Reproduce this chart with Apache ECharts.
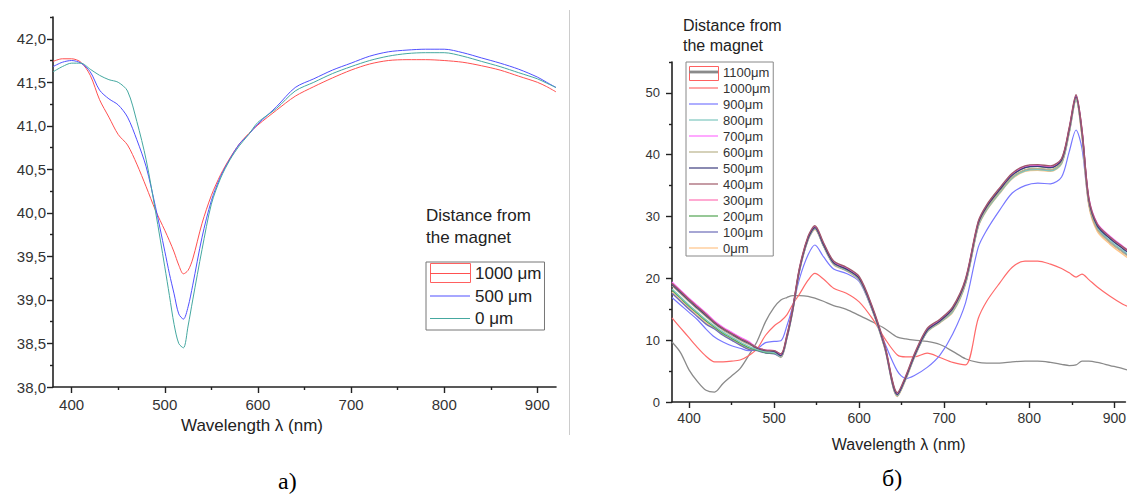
<!DOCTYPE html>
<html><head><meta charset="utf-8">
<script src="https://cdn.jsdelivr.net/npm/echarts@6/dist/echarts.min.js"></script>
<style>html,body{margin:0;padding:0;background:#fff}#c{width:1129px;height:495px}</style>
</head><body><div id="c"></div>
<script>
// ---------- DATA ----------
const leftWl = [380,390,400,410,420,430,440,450,460,470,480,490,500,505,510,515,520,525,530,540,550,560,570,580,590,600,620,640,660,680,700,720,740,760,780,800,820,840,860,880,900,910,920];
const left1000 = [41.74,41.77,41.77,41.73,41.58,41.30,41.10,40.90,40.78,40.56,40.30,40.03,39.80,39.68,39.55,39.40,39.30,39.34,39.47,39.88,40.20,40.44,40.63,40.79,40.91,41.01,41.18,41.34,41.45,41.55,41.64,41.71,41.75,41.76,41.76,41.75,41.73,41.69,41.64,41.57,41.50,41.45,41.39];
const left500 = [41.68,41.73,41.75,41.72,41.62,41.41,41.31,41.24,41.10,40.84,40.53,40.07,39.56,39.30,39.07,38.84,38.78,38.92,39.17,39.72,40.14,40.42,40.62,40.79,40.90,41.02,41.22,41.44,41.54,41.64,41.72,41.80,41.85,41.87,41.88,41.88,41.84,41.78,41.72,41.65,41.56,41.50,41.44];
const left0 = [41.62,41.68,41.72,41.72,41.65,41.58,41.53,41.50,41.40,41.05,40.61,40.02,39.38,39.05,38.72,38.50,38.45,38.70,39.00,39.58,40.10,40.40,40.61,40.77,40.90,41.04,41.20,41.40,41.50,41.60,41.68,41.75,41.80,41.83,41.84,41.84,41.80,41.74,41.68,41.61,41.54,41.49,41.44];

const rightWl = [380,390,400,410,420,430,440,450,460,470,480,490,500,508,515,522,530,540,548,558,570,585,600,615,630,645,655,665,680,695,710,725,740,750,765,780,795,810,825,838,847,855,862,870,880,895,910,915];
const r1100 = [9.7,8.0,5.2,3.3,1.9,1.6,3.0,4.2,5.4,7.5,9.8,13.0,15.3,16.5,16.9,17.2,17.2,17.1,16.8,16.3,15.6,15.0,14.0,13.0,11.9,10.5,10.2,10.0,9.8,9.3,8.2,7.0,6.4,6.3,6.3,6.5,6.6,6.6,6.4,6.1,5.9,6.0,6.6,6.6,6.4,5.9,5.4,5.2];
const r1000 = [13.6,12.0,10.4,8.8,7.4,6.5,6.5,6.6,6.8,7.5,8.6,10.8,12.3,13.1,14.1,15.8,17.5,19.7,20.8,19.9,18.4,17.6,16.2,13.6,10.3,7.6,7.3,7.3,7.9,7.2,6.4,6.0,13.5,16.3,19.2,21.8,22.8,22.8,22.3,21.6,20.9,20.2,20.7,19.8,18.6,17.1,15.8,15.5];
const r900 = [16.9,15.7,14.5,13.3,11.8,10.5,9.7,9.1,8.7,8.3,8.6,9.6,9.8,9.9,12.3,15.5,20.0,23.8,25.4,23.5,21.5,20.8,19.5,15.0,9.6,5.0,3.8,4.3,5.6,7.6,11.0,16.0,25.0,27.8,31.0,33.8,35.0,35.4,35.3,36.4,40.5,44.0,41.0,32.0,28.0,25.8,24.3,23.9];
const r800 = [18.3,17.0,15.7,14.5,13.3,12.3,11.3,10.5,9.7,9.0,8.5,8.1,8.0,7.3,10.3,14.8,21.3,26.3,28.0,25.3,22.3,21.3,19.8,15.1,8.8,1.0,3.8,7.3,11.4,12.9,14.6,19.1,28.4,31.1,33.8,36.2,37.4,37.6,37.4,38.6,43.6,48.9,43.4,32.4,28.2,26.1,24.5,24.0];
const r700 = [19.4,18.1,16.8,15.6,14.4,13.1,12.1,11.3,10.5,9.8,8.8,8.4,8.3,7.7,10.7,15.2,21.7,26.7,28.4,25.7,22.7,21.7,20.2,15.5,9.2,1.4,4.2,7.7,11.8,13.3,15.3,19.8,29.1,31.8,34.5,36.9,38.1,38.3,38.1,39.3,44.3,49.6,44.1,33.1,28.9,26.8,25.2,24.7];
const r600 = [18.8,17.5,16.2,15.0,13.8,12.6,11.6,10.8,10.0,9.3,8.7,8.3,8.2,7.4,10.4,14.9,21.4,26.4,28.1,25.4,22.4,21.4,19.9,15.2,8.9,1.1,3.9,7.4,11.5,13.0,14.8,19.3,28.6,31.3,34.0,36.4,37.6,37.8,37.6,38.8,43.8,49.1,43.1,32.1,27.9,25.8,24.2,23.7];
const r500 = [19.0,17.7,16.4,15.2,14.0,12.8,11.8,11.0,10.2,9.5,8.7,8.3,8.2,7.5,10.5,15.0,21.5,26.5,28.2,25.5,22.5,21.5,20.0,15.3,9.0,1.2,4.0,7.5,11.6,13.1,15.1,19.6,28.9,31.6,34.3,36.7,37.9,38.1,37.9,39.1,44.1,49.4,43.7,32.7,28.5,26.4,24.8,24.3];
const r400 = [19.2,17.9,16.6,15.4,14.2,12.9,11.9,11.1,10.3,9.6,8.8,8.4,8.3,7.8,10.8,15.3,21.8,26.8,28.5,25.8,22.8,21.8,20.3,15.6,9.3,1.5,4.3,7.8,11.9,13.4,15.4,19.9,29.2,31.9,34.6,37.0,38.2,38.4,38.2,39.4,44.4,49.7,44.0,33.0,28.8,26.7,25.1,24.6];
const r300 = [19.3,18.0,16.7,15.5,14.3,13.0,12.0,11.2,10.4,9.7,8.8,8.4,8.3,7.6,10.6,15.1,21.6,26.6,28.3,25.6,22.6,21.6,20.1,15.4,9.1,1.3,4.1,7.6,11.7,13.2,15.2,19.7,29.0,31.7,34.4,36.8,38.0,38.2,38.0,39.2,44.2,49.5,43.9,32.9,28.7,26.6,25.0,24.5];
const r200 = [18.1,16.8,15.5,14.3,13.1,12.1,11.1,10.3,9.5,8.8,8.4,8.0,7.9,7.6,10.6,15.1,21.6,26.6,28.3,25.6,22.6,21.6,20.1,15.4,9.1,1.3,4.1,7.6,11.7,13.2,15.1,19.6,28.9,31.6,34.3,36.7,37.9,38.1,37.9,39.1,44.1,49.4,43.8,32.8,28.6,26.5,24.9,24.4];
const r100 = [17.6,16.3,15.0,13.8,12.6,11.8,10.8,10.0,9.2,8.5,8.3,7.9,7.8,7.3,10.3,14.8,21.3,26.3,28.0,25.3,22.3,21.3,19.8,15.1,8.8,1.0,3.8,7.3,11.4,12.9,14.7,19.2,28.5,31.2,33.9,36.3,37.5,37.7,37.5,38.7,43.7,49.0,43.2,32.2,28.0,25.9,24.3,23.8];
const r0 = [17.8,16.5,15.2,14.0,12.8,11.9,10.9,10.1,9.3,8.6,8.4,8.0,7.9,7.2,10.2,14.7,21.2,26.2,27.9,25.2,22.2,21.2,19.7,15.0,8.7,0.9,3.7,7.2,11.3,12.8,14.5,19.0,28.3,31.0,33.7,36.1,37.3,37.5,37.3,38.5,43.5,48.8,42.8,31.8,27.6,25.5,23.9,23.4];

const leftNames = ['1000 μm','500 μm','0 μm'];
const rightNames = ['1100μm','1000μm','900μm','800μm','700μm','600μm','500μm','400μm','300μm','200μm','100μm','0μm'];

const xTicks = [400,500,600,700,800,900];
const xMinor = [450,550,650,750,850];
const leftYTicks = [38,38.5,39,39.5,40,40.5,41,41.5,42];
const leftYMinor = [38.25,38.75,39.25,39.75,40.25,40.75,41.25,41.75,42.25];
const rightYTicks = [0,10,20,30,40,50];
const rightYMinor = [5,15,25,35,45,55];

// ---------- CHART ----------
const FONT = 'Liberation Sans, Arial, sans-serif';
const AX = '#222';
const pts = (xs, ys) => xs.map((x, i) => [x, ys[i]]);

function majorAxis(grid, min, max, ticks, extra) {
  return Object.assign({
    type: 'value', gridIndex: grid, min: min, max: max,
    axisLine: {show: true, onZero: false, lineStyle: {color: AX, width: 1.6}},
    axisTick: {show: true, customValues: ticks, length: 6, lineStyle: {color: AX, width: 1.4}},
    axisLabel: {customValues: ticks, color: '#333', fontFamily: FONT},
    splitLine: {show: false}
  }, extra);
}
function minorAxis(grid, min, max, ticks, pos) {
  return {
    type: 'value', gridIndex: grid, min: min, max: max, position: pos,
    axisLine: {show: false},
    axisTick: {show: true, customValues: ticks, length: 3, lineStyle: {color: AX, width: 1.4}},
    axisLabel: {show: false}, splitLine: {show: false}
  };
}

const xAxis = [
  majorAxis(0, 380, 920, xTicks, {position: 'bottom',
    axisLabel: {customValues: xTicks, color: '#333', fontFamily: FONT, fontSize: 15, margin: 10},
    name: 'Wavelength λ (nm)', nameLocation: 'middle', nameGap: 24,
    nameTextStyle: {fontSize: 17, color: '#222', fontFamily: FONT, padding: [0, 105, 0, 0]}}),
  minorAxis(0, 380, 920, xMinor, 'bottom'),
  majorAxis(1, 380, 913, xTicks, {position: 'bottom',
    axisLabel: {customValues: xTicks, color: '#333', fontFamily: FONT, fontSize: 14, margin: 9},
    name: 'Wavelength λ (nm)', nameLocation: 'middle', nameGap: 34,
    nameTextStyle: {fontSize: 16, color: '#222', fontFamily: FONT}}),
  minorAxis(1, 380, 913, xMinor, 'bottom')
];
const yAxis = [
  majorAxis(0, 38, 42.25, leftYTicks, {position: 'left',
    axisLabel: {customValues: leftYTicks, color: '#333', fontFamily: FONT, fontSize: 15, margin: 7,
      formatter: v => v.toFixed(1).replace('.', ',')}}),
  minorAxis(0, 38, 42.25, leftYMinor, 'left'),
  majorAxis(1, 0, 55, rightYTicks, {position: 'left',
    axisLabel: {customValues: rightYTicks, color: '#333', fontFamily: FONT, fontSize: 13, margin: 12}}),
  minorAxis(1, 0, 55, rightYMinor, 'left')
];

function lineSeries(name, xi, yi, xs, ys, color, width) {
  return {
    name: name, type: 'line', xAxisIndex: xi, yAxisIndex: yi,
    data: pts(xs, ys), symbol: 'none', showSymbol: false, smooth: 0.3,
    lineStyle: {color: color, width: width}, itemStyle: {color: color},
    emphasis: {disabled: true}, silent: true
  };
}

const C = {
  l1000: '#ff5050', l500: '#5050ff', l0: '#45a8a0',
  r1100: '#8a8a8a', r1000: '#ff6a6a', r900: '#7878ff', r800: '#7cc6be', r700: '#ff70ff',
  r600: '#bab28a', r500: '#3c3c7e', r400: '#a05a6a', r300: '#ff72b4', r200: '#52a352',
  r100: '#6c6cb8', r0: '#ffc488'
};

const series = [
  lineSeries(leftNames[0], 0, 0, leftWl, left1000, C.l1000, 1),
  lineSeries(leftNames[1], 0, 0, leftWl, left500, C.l500, 1),
  lineSeries(leftNames[2], 0, 0, leftWl, left0, C.l0, 1),
  lineSeries('1100μm', 2, 2, rightWl, r1100, C.r1100, 1.3),
  lineSeries('1000μm', 2, 2, rightWl, r1000, C.r1000, 1.2),
  lineSeries('900μm', 2, 2, rightWl, r900, C.r900, 1.2),
  lineSeries('0μm', 2, 2, rightWl, r0, C.r0, 1.4),
  lineSeries('100μm', 2, 2, rightWl, r100, C.r100, 1.3),
  lineSeries('200μm', 2, 2, rightWl, r200, C.r200, 1.3),
  lineSeries('800μm', 2, 2, rightWl, r800, C.r800, 1.3),
  lineSeries('600μm', 2, 2, rightWl, r600, C.r600, 1.3),
  lineSeries('300μm', 2, 2, rightWl, r300, C.r300, 1.3),
  lineSeries('700μm', 2, 2, rightWl, r700, C.r700, 1.3),
  lineSeries('500μm', 2, 2, rightWl, r500, C.r500, 1.3),
  lineSeries('400μm', 2, 2, rightWl, r400, C.r400, 1.4)
];

// thin horizontal bar icons (invisible moveTo corners keep the bar thin after scaling)
const LEFT_ICON = 'path://M0,0M40,14M0,6.5H40V7.5H0Z';
const RIGHT_ICON = 'path://M0,0M29,14M0,6.4H29V7.6H0Z';
const RIGHT_ICON_THICK = 'path://M0,0M29,14M0,5.6H29V8.4H0Z';

const chart = echarts.init(document.getElementById('c'), null, {renderer: 'svg'});
chart.setOption({
  animation: false,
  backgroundColor: '#fff',
  textStyle: {fontFamily: FONT},
  grid: [
    {left: 53, top: 17, width: 503, height: 370},
    {left: 672, top: 62, width: 457, height: 340}
  ],
  xAxis: xAxis,
  yAxis: yAxis,
  series: series,
  title: [
    {text: 'Distance from\nthe magnet', left: 426, top: 204, padding: 0,
      textStyle: {fontSize: 17, fontWeight: 'normal', color: '#222', lineHeight: 22, fontFamily: FONT}},
    {text: 'Distance from\nthe magnet', left: 683, top: 15, padding: 0,
      textStyle: {fontSize: 16, fontWeight: 'normal', color: '#222', lineHeight: 20, fontFamily: FONT}},
    {text: 'а)', left: 278, top: 469, padding: 0,
      textStyle: {fontSize: 24, fontWeight: 'normal', color: '#000', fontFamily: 'Liberation Serif, Times New Roman, serif'}},
    {text: 'б)', left: 882, top: 466, padding: 0,
      textStyle: {fontSize: 24, fontWeight: 'normal', color: '#000', fontFamily: 'Liberation Serif, Times New Roman, serif'}}
  ],
  legend: [
    {data: leftNames, icon: LEFT_ICON, symbolKeepAspect: false, orient: 'vertical', left: 426, top: 262, padding: [3, 3, 3, 4],
      itemWidth: 40, itemHeight: 14, itemGap: 5.5, borderColor: '#777', borderWidth: 1,
      selectedMode: false, textStyle: {fontSize: 17, color: '#222', fontFamily: FONT}},
    {data: rightNames.map((n, i) => i === 0 ? {name: n, icon: RIGHT_ICON_THICK} : n), icon: RIGHT_ICON, symbolKeepAspect: false,
      orient: 'vertical', left: 686, top: 62, padding: [3, 3, 1, 3],
      itemWidth: 29, itemHeight: 14, itemGap: 2, borderColor: '#888', borderWidth: 1,
      selectedMode: false, textStyle: {fontSize: 13, color: '#333', fontFamily: FONT}}
  ],
  graphic: [
    {type: 'line', shape: {x1: 569.5, y1: 10, x2: 569.5, y2: 435}, style: {stroke: '#cccccc', lineWidth: 1}, silent: true},
    {type: 'rect', shape: {x: 430.5, y: 263.5, width: 40, height: 19}, style: {fill: 'none', stroke: '#ff6060', lineWidth: 1}, silent: true},
    {type: 'rect', shape: {x: 689.5, y: 66.5, width: 29, height: 14}, style: {fill: 'none', stroke: '#ff6060', lineWidth: 1}, silent: true}
  ]
});
</script></body></html>
